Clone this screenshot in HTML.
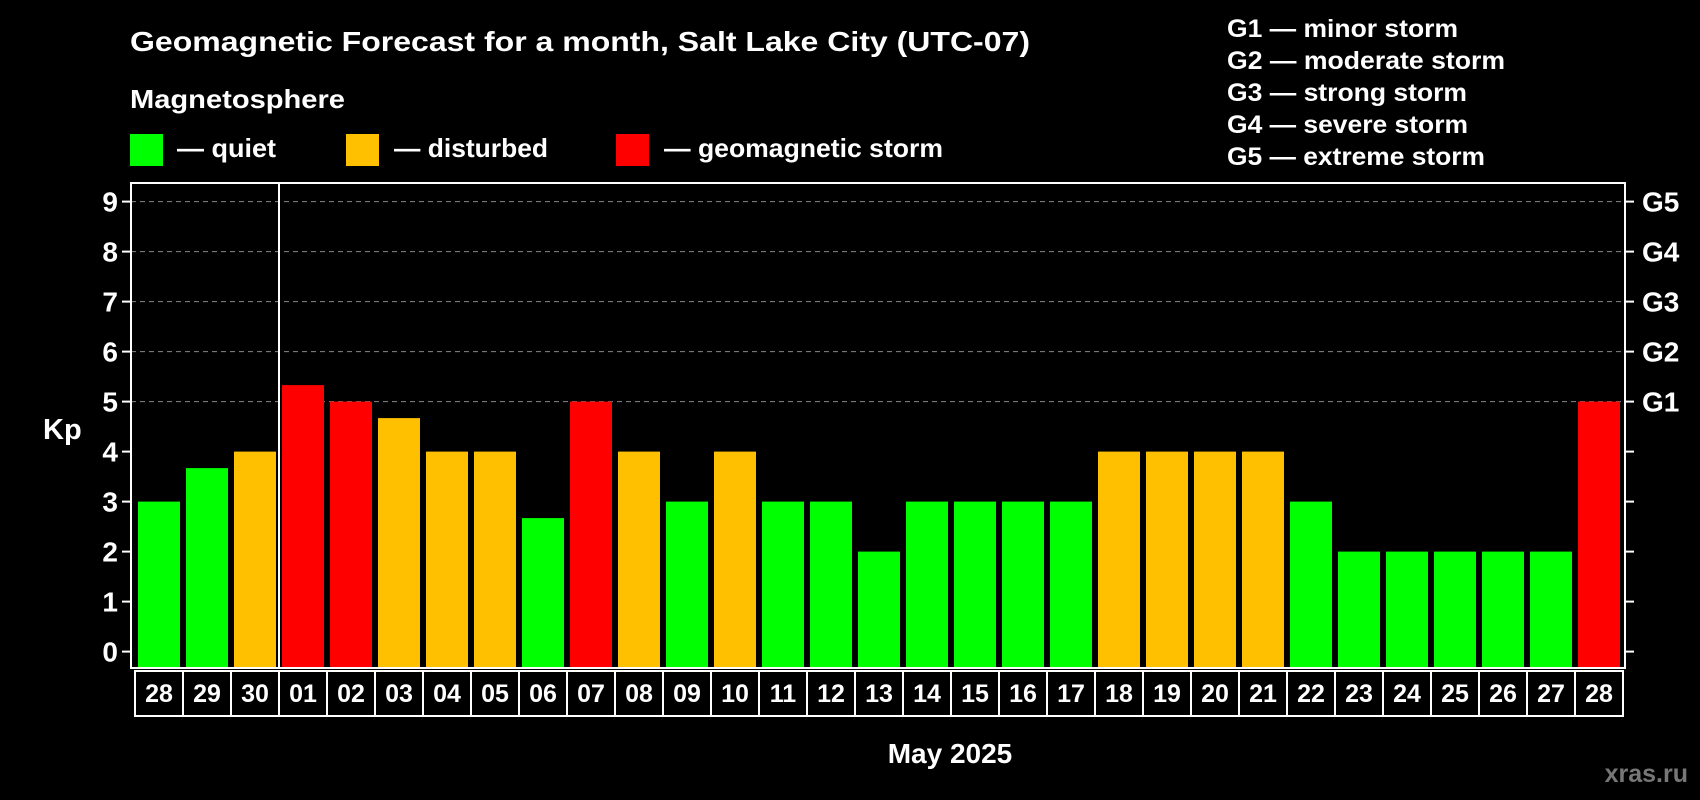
<!DOCTYPE html>
<html><head><meta charset="utf-8"><style>
body{margin:0;background:#000;}
svg{display:block;font-family:"Liberation Sans",Arial,sans-serif;font-weight:bold;}
</style></head><body>
<svg id="c" width="1700" height="800" viewBox="0 0 1700 800">
<rect width="1700" height="800" fill="#000"/>
<text x="130" y="51" fill="#fff" font-size="28" textLength="900" lengthAdjust="spacingAndGlyphs">Geomagnetic Forecast for a month, Salt Lake City (UTC-07)</text>
<text x="130" y="108" fill="#fff" font-size="26" textLength="215" lengthAdjust="spacingAndGlyphs">Magnetosphere</text>
<g><rect x="130" y="134" width="33" height="32" fill="#00ff00"/><text x="177" y="157" fill="#fff" font-size="26" textLength="99" lengthAdjust="spacingAndGlyphs">— quiet</text></g>
<g><rect x="346" y="134" width="33" height="32" fill="#ffc000"/><text x="394" y="157" fill="#fff" font-size="26" textLength="154" lengthAdjust="spacingAndGlyphs">— disturbed</text></g>
<g><rect x="616" y="134" width="33" height="32" fill="#ff0000"/><text x="664" y="157" fill="#fff" font-size="26" textLength="279" lengthAdjust="spacingAndGlyphs">— geomagnetic storm</text></g>
<g fill="#fff" font-size="25" lengthAdjust="spacingAndGlyphs">
<text x="1227" y="37" textLength="231" lengthAdjust="spacingAndGlyphs">G1 — minor storm</text>
<text x="1227" y="69" textLength="278" lengthAdjust="spacingAndGlyphs">G2 — moderate storm</text>
<text x="1227" y="101" textLength="240" lengthAdjust="spacingAndGlyphs">G3 — strong storm</text>
<text x="1227" y="133" textLength="241" lengthAdjust="spacingAndGlyphs">G4 — severe storm</text>
<text x="1227" y="165" textLength="258" lengthAdjust="spacingAndGlyphs">G5 — extreme storm</text>
</g>
<text x="43" y="439" fill="#fff" font-size="29">Kp</text>
<text x="950" y="763" fill="#fff" font-size="28" text-anchor="middle">May 2025</text>
<text x="1688" y="782" fill="#777" font-size="25" text-anchor="end">xras.ru</text>
<g id="plot"></g>
</svg>
<script>
const days=["28","29","30","01","02","03","04","05","06","07","08","09","10","11","12","13","14","15","16","17","18","19","20","21","22","23","24","25","26","27","28"];
const kp=[3,3.67,4,5.33,5,4.67,4,4,2.67,5,4,3,4,3,3,2,3,3,3,3,4,4,4,4,3,2,2,2,2,2,5];
const yTicks=[0,1,2,3,4,5,6,7,8,9];
const gLabels=["G1","G2","G3","G4","G5"];
const NS="http://www.w3.org/2000/svg";
const g=document.getElementById('plot');
const L=131,R=1625,T=183,B=668,X0=135,STEP=48;
function y(v){return 651.6-v*50;}
function x(i){return X0+STEP*i;}
function mk(t,a){const e=document.createElementNS(NS,t);for(const k in a)e.setAttribute(k,a[k]);g.appendChild(e);return e;}
function col(v){return v>=5?"#ff0000":(v>=4?"#ffc000":"#00ff00");}
yTicks.forEach((v,i)=>{
  if(v>=5){const l=mk('line',{x1:L,x2:R,y1:y(v),y2:y(v),stroke:'#888','stroke-dasharray':'5,4','stroke-width':1});
  
  }
  mk('line',{x1:L-9,x2:L,y1:y(v),y2:y(v),stroke:'#fff','stroke-width':2});
  mk('line',{x1:R,x2:R+9,y1:y(v),y2:y(v),stroke:'#fff','stroke-width':2});
  const t=mk('text',{x:L-13,y:y(v)+10,fill:'#fff','font-size':28,'text-anchor':'end'});t.textContent=v;
  
  
});
gLabels.forEach((s,i)=>{
  const t=mk('text',{x:R+17,y:y(5+i)+10,fill:'#fff','font-size':28});t.textContent=s;
  
  
});
kp.forEach((v,i)=>{
  const r=mk('rect',{x:x(i)+3,y:y(v),width:42,height:B-y(v),fill:col(v)});
  
  
});
mk('rect',{x:L,y:T,width:R-L,height:B-T,fill:'none',stroke:'#fff','stroke-width':2});
mk('line',{x1:x(3),x2:x(3),y1:T,y2:B,stroke:'#fff','stroke-width':2});
days.forEach((d,i)=>{
  const r=mk('rect',{x:x(i),y:671,width:STEP,height:45,fill:'none',stroke:'#fff','stroke-width':2});
  
  
  const t=mk('text',{x:x(i)+STEP/2,y:702,fill:'#fff','font-size':25,'text-anchor':'middle'});t.textContent=d;
  
  
});
</script>
</body></html>
